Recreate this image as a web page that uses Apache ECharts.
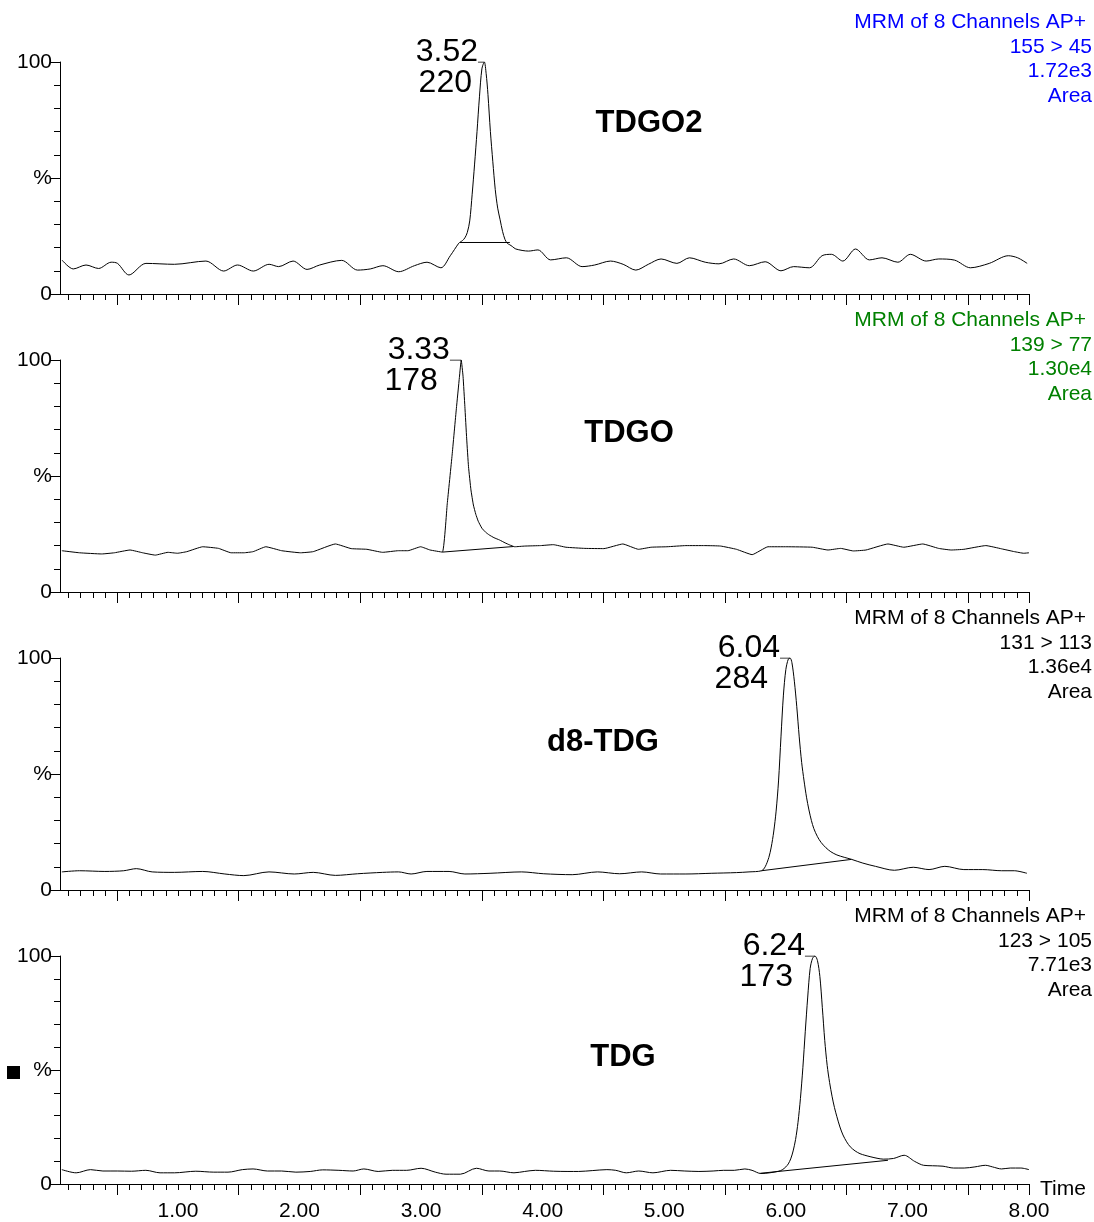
<!DOCTYPE html>
<html>
<head>
<meta charset="utf-8">
<script src="https://cdn.jsdelivr.net/npm/echarts@6/dist/echarts.min.js"></script>
<style>
html,body{margin:0;padding:0;background:#fff;}
#chart{width:1094px;height:1222px;}
</style>
</head>
<body>
<div id="chart"></div>
<script>
// ---------------- DATA ----------------
const compounds = ['TDGO2', 'TDGO', 'd8-TDG', 'TDG'];
const headerLines = [
  ['MRM of 8 Channels AP+', '155 > 45', '1.72e3', 'Area'],
  ['MRM of 8 Channels AP+', '139 > 77', '1.30e4', 'Area'],
  ['MRM of 8 Channels AP+', '131 > 113', '1.36e4', 'Area'],
  ['MRM of 8 Channels AP+', '123 > 105', '7.71e3', 'Area']
];
const peakRT = [3.52, 3.33, 6.035, 6.24];
const peakRTLabels = ['3.52', '3.33', '6.04', '6.24'];
const peakHeightLabels = ['220', '178', '284', '173'];
const leaderStart = [3.468, 3.237, 5.952, 6.157];
const timeLabels = [1, 2, 3, 4, 5, 6, 7, 8];
const xAxisTitle = 'Time';

// chromatogram traces: [time (min), relative intensity (%)]
const traceTDGO2 = [
  [0.047,14.6],[0.139,10.8],[0.244,12.5],[0.347,11.0],[0.451,13.7],[0.503,13.2],[0.597,8.2],[0.737,13.2],
  [0.971,12.8],[1.230,14.2],[1.376,9.9],[1.49,12.5],[1.62,9.9],[1.75,12.8],[1.828,11.8],[1.947,14.2],
  [2.062,10.6],[2.166,12.5],[2.347,14.5],[2.477,10.3],[2.582,10.8],[2.686,12.2],[2.816,9.6],[2.945,12.2],
  [3.049,13.7],[3.163,11.3],[3.24,16.5],[3.31,21.9],[3.325,22.5],[3.34,23.0],[3.36,24.2],[3.38,26.5],
  [3.40,31.5],[3.42,43],[3.44,56],[3.46,70],[3.48,85],[3.50,97],[3.52,100],[3.535,95],[3.55,86],
  [3.57,70],[3.59,57],[3.61,45],[3.63,37],[3.65,32],[3.67,27],[3.69,23.5],[3.71,21.8],[3.73,21.2],
  [3.75,20.5],[3.779,19.4],
  [3.883,18.5],[3.961,19.0],[4.065,14.7],[4.195,15.6],[4.324,11.8],[4.428,12.5],[4.558,14.2],[4.662,12.8],
  [4.766,10.3],[4.869,12.8],[4.974,15.1],[5.104,13.2],[5.207,15.6],[5.337,13.7],[5.45,13.0],[5.571,15.1],
  [5.700,12.2],[5.830,13.9],[5.960,10.0],[6.064,11.8],[6.194,11.3],[6.298,16.5],[6.375,17.1],[6.469,14.2],
  [6.573,19.4],[6.687,14.7],[6.791,15.6],[6.921,13.7],[7.024,17.1],[7.154,14.2],[7.258,15.1],[7.388,14.6],
  [7.518,11.3],[7.673,13.2],[7.830,16.5],[7.907,15.6],[7.985,13.2]
];
const traceTDGO = [
  [0.045,17.8],[0.191,16.9],[0.373,16.4],[0.477,16.9],[0.606,18.1],[0.710,16.9],[0.814,15.9],[0.918,17.1],
  [0.996,16.7],[1.074,17.4],[1.204,19.5],[1.334,18.8],[1.438,16.9],[1.542,16.9],[1.619,17.4],[1.723,19.5],
  [1.853,17.8],[2.009,16.9],[2.113,17.4],[2.295,20.7],[2.425,18.7],[2.554,18.4],[2.684,17.1],[2.814,17.8],
  [2.892,17.8],[2.996,19.5],[3.074,18.1],[3.175,17.2],[3.215,38],[3.255,59],[3.29,79],[3.315,92.5],
  [3.33,100],[3.345,93],[3.36,80],[3.375,66],[3.39,54],[3.41,44],
  [3.43,37.5],[3.45,33.5],[3.47,30.5],[3.50,27.5],[3.53,25.8],[3.56,24.6],[3.60,23.4],[3.646,22.4],
  [3.69,21.2],[3.728,20.3],[3.77,19.5],[3.853,19.8],
  [3.983,20.0],[4.087,20.4],[4.191,19.3],[4.347,18.8],[4.503,18.7],[4.659,20.7],[4.788,18.4],[4.892,19.3],
  [5.022,19.5],[5.178,20.0],[5.334,20.0],[5.464,19.8],[5.594,18.4],[5.723,16.1],[5.853,19.5],[6.009,19.5],
  [6.217,19.3],[6.347,18.1],[6.451,18.8],[6.555,17.7],[6.659,18.1],[6.840,20.7],[6.970,19.3],[7.126,20.7],
  [7.256,18.8],[7.360,18.1],[7.464,18.4],[7.645,20.0],[7.775,18.6],[7.879,17.4],[7.957,16.7],[8.0,16.9]
];
const traceD8TDG = [
  [0.045,7.8],[0.191,8.3],[0.399,8.0],[0.554,8.3],[0.658,9.2],[0.788,7.8],[0.970,7.6],[1.204,8.0],
  [1.386,6.9],[1.542,6.2],[1.749,7.8],[1.957,6.9],[2.113,7.6],[2.295,6.3],[2.477,7.0],[2.684,7.6],
  [2.814,7.8],[2.918,6.9],[3.048,8.0],[3.230,8.0],[3.360,6.9],[3.567,7.2],[3.827,7.8],[4.009,7.0],
  [4.243,6.6],[4.451,7.8],[4.633,7.0],[4.814,7.8],[4.970,6.9],[5.178,6.9],[5.386,7.2],[5.594,7.5],
  [5.697,7.8],[5.80,8.3],[5.83,10],[5.86,14],[5.88,18.5],[5.90,25],[5.92,34],[5.94,47],[5.96,66],
  [5.98,84],[6.00,95],[6.02,99.5],[6.035,100],[6.05,98],[6.07,90],[6.09,79],[6.11,66],[6.13,55],
  [6.15,47],[6.17,40],[6.19,34.5],[6.21,30],[6.23,26.5],[6.26,23],[6.29,20.5],[6.33,18.2],[6.37,16.5],
  [6.42,15.1],[6.48,14.1],[6.541,13.2],[6.633,11.6],
  [6.737,10.2],[6.893,8.5],[7.048,9.8],[7.178,8.8],[7.308,10.2],[7.464,8.8],[7.620,8.8],[7.775,8.3],
  [7.879,8.3],[7.983,7.2]
];
const traceTDG = [
  [0.045,6.3],[0.163,4.9],[0.281,6.3],[0.383,5.7],[0.501,5.7],[0.618,5.6],[0.736,6.0],[0.853,4.9],
  [0.971,4.9],[1.147,5.6],[1.295,5.2],[1.412,5.2],[1.530,6.3],[1.618,6.6],[1.736,5.7],[1.853,5.7],
  [1.970,5.2],[2.088,5.5],[2.191,6.2],[2.324,6.0],[2.441,5.7],[2.529,6.6],[2.647,5.5],[2.764,6.0],
  [2.882,6.0],[3.0,6.9],[3.117,5.2],[3.205,4.3],[3.323,4.3],[3.455,6.9],[3.558,5.7],[3.646,5.7],
  [3.764,4.9],[3.852,5.5],[3.940,6.0],[4.091,5.6],[4.208,5.5],[4.296,5.5],[4.412,5.9],[4.528,6.3],
  [4.601,6.0],[4.688,4.9],[4.790,5.7],[4.907,4.9],[5.052,6.0],[5.169,5.7],[5.285,5.5],[5.402,5.7],
  [5.489,6.0],[5.576,6.0],[5.663,6.6],[5.722,6.0],[5.794,4.6],[5.867,4.9],[5.94,5.6],[5.97,6.2],
  [6.00,7.5],[6.02,8.8],[6.04,11],[6.06,14.5],[6.08,19.5],[6.10,27],[6.12,37.5],[6.14,51],[6.16,67],
  [6.18,82],[6.20,94.5],[6.22,99],[6.24,100],[6.26,98],[6.28,91],[6.30,77.5],[6.32,63],[6.34,52],
  [6.36,44.5],[6.38,38.5],[6.40,33.5],[6.42,29.5],[6.445,25],[6.47,21.5],[6.50,18.5],[6.53,16.3],
  [6.57,14.5],[6.61,13.3],[6.65,12.6],[6.70,11.9],[6.75,11.3],[6.801,10.9],[6.886,11.2],[6.973,12.6],[7.060,9.9],
  [7.133,8.2],[7.206,8.0],[7.293,7.8],[7.380,7.0],[7.467,7.0],[7.555,7.5],[7.642,8.2],[7.700,7.5],
  [7.774,6.6],[7.846,7.0],[7.933,7.0],[8.0,6.3]
];
const traces = [traceTDGO2, traceTDGO, traceD8TDG, traceTDG];
// integration baselines: [[tStart, %],[tEnd, %]]
const integrationTDGO2 = [[3.32,22.2],[3.73,22.2]];
const integrationTDGO = [[3.175,17.2],[3.76,19.6]];
const integrationD8TDG = [[5.80,8.3],[6.54,13.2]];
const integrationTDG = [[5.79,4.7],[6.84,10.4]];
const integrations = [integrationTDGO2, integrationTDGO, integrationD8TDG, integrationTDG];

// ---------------- LAYOUT / STYLE ----------------
const FONT = '"Liberation Sans", Arial, Helvetica, sans-serif';
const headerColors = ['#0000ff', '#008000', '#000000', '#000000'];
const traceSmooth = [0.3, 0.12, 0.3, 0.3];
const gridTops = [62, 360, 658, 956];
const gridH = 232;
const gridLeft = 60;
const gridW = 969;
const xMin = 0.03, xMax = 8.0;

const minorTicks = [];
const halfTicks = [];
for (let k = 1; k <= 80; k++) {
  const v = +(k / 10).toFixed(1);
  if (k % 10 === 5 || k === 80) halfTicks.push(v); else minorTicks.push(v);
}

const grids = [], xAxes = [], yAxes = [], series = [], graphics = [];
const lineStyle = {color: '#000', width: 1};

for (let i = 0; i < 4; i++) {
  grids.push({left: gridLeft, top: gridTops[i], width: gridW, height: gridH});
  xAxes.push({
    type: 'value', gridIndex: i, min: xMin, max: xMax, position: 'bottom',
    axisLine: {show: true, onZero: false, lineStyle: {color: '#000', width: 1}},
    axisTick: {show: true, customValues: minorTicks, length: 6, lineStyle: {color: '#000', width: 1}},
    axisLabel: {show: i === 3, customValues: timeLabels, formatter: v => v.toFixed(2),
      fontSize: 21, color: '#000', fontFamily: FONT, margin: 17},
    splitLine: {show: false}
  });
  xAxes.push({
    type: 'value', gridIndex: i, min: xMin, max: xMax, position: 'bottom',
    axisLine: {show: false},
    axisTick: {show: true, customValues: halfTicks, length: 11, lineStyle: {color: '#000', width: 1}},
    axisLabel: {show: false},
    splitLine: {show: false}
  });
  yAxes.push({
    type: 'value', gridIndex: i, min: 0, max: 100, interval: 50,
    axisLine: {show: true, lineStyle: {color: '#000', width: 1}},
    axisTick: {show: true, length: 10, lineStyle: {color: '#000', width: 1}},
    minorTick: {show: true, splitNumber: 5, length: 6, lineStyle: {color: '#000', width: 1}},
    axisLabel: {formatter: v => (v === 50 ? '%' : String(v)), fontSize: 21, color: '#000', fontFamily: FONT, margin: 8},
    splitLine: {show: false}, minorSplitLine: {show: false}
  });

  const xi = i * 2;
  series.push({
    type: 'line', xAxisIndex: xi, yAxisIndex: i, data: traces[i], symbol: 'none',
    smooth: traceSmooth[i], lineStyle: lineStyle, silent: true, z: 3
  });
  series.push({
    type: 'line', xAxisIndex: xi, yAxisIndex: i, data: integrations[i], symbol: 'none',
    lineStyle: lineStyle, silent: true, z: 3
  });
  series.push({
    type: 'line', xAxisIndex: xi, yAxisIndex: i, data: [[leaderStart[i], 100], [peakRT[i], 100]],
    symbol: 'none', lineStyle: lineStyle, silent: true, z: 3
  });
  const lblBase = {show: true, position: 'left', distance: 0, fontSize: 32, color: '#000000',
    fontFamily: FONT, opacity: 1, textBorderWidth: 0};
  series.push({
    type: 'scatter', xAxisIndex: xi, yAxisIndex: i, symbolSize: 0, silent: true,
    itemStyle: {color: '#000000', opacity: 1},
    label: lblBase,
    data: [
      {value: [leaderStart[i], 100], label: Object.assign({}, lblBase, {formatter: peakRTLabels[i], offset: [0, -10]})},
      {value: [leaderStart[i], 100], label: Object.assign({}, lblBase, {formatter: peakHeightLabels[i], offset: [i === 0 ? -6 : -12, 21]})}
    ],
    z: 4
  });

  // header text (top-right)
  const headTop = gridTops[i] - 39;
  headerLines[i].forEach((t, j) => {
    graphics.push({
      type: 'text', right: j === 0 ? 8 : 2, top: headTop + j * 24.6 - 11,
      style: {text: t, fontSize: 21, fill: headerColors[i], fontFamily: FONT}
    });
  });
}

// x-axis title at the right end of the bottom axis
graphics.push({
  type: 'text', x: 1040, y: 1189,
  style: {text: xAxisTitle, fontSize: 21, fill: '#000', fontFamily: FONT, align: 'left', verticalAlign: 'middle'}
});

// compound names
const namePos = [[649, 123], [629, 433], [603, 742], [623, 1057]];
compounds.forEach((c, i) => {
  graphics.push({
    type: 'text', x: namePos[i][0], y: namePos[i][1],
    style: {text: c, fontSize: 31, fontWeight: 'bold', fill: '#000', fontFamily: FONT, align: 'center', verticalAlign: 'middle'}
  });
});
// small black square marker
graphics.push({type: 'rect', shape: {x: 7, y: 1066, width: 13, height: 13}, style: {fill: '#000'}});

const chart = echarts.init(document.getElementById('chart'), null, {renderer: 'canvas'});
chart.setOption({
  animation: false,
  backgroundColor: '#fff',
  grid: grids, xAxis: xAxes, yAxis: yAxes, series: series, graphic: graphics
});
</script>
</body>
</html>
